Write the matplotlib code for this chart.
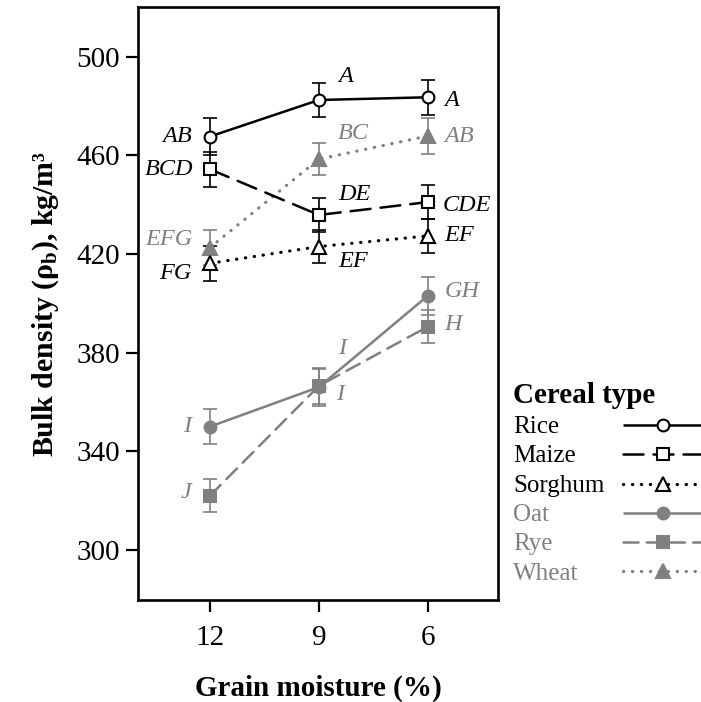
import matplotlib
matplotlib.use('Agg')
import matplotlib.pyplot as plt

plt.rcParams['font.family'] = 'Liberation Serif'
plt.rcParams['mathtext.fontset'] = 'custom'
plt.rcParams['mathtext.rm'] = 'Liberation Serif'
plt.rcParams['mathtext.it'] = 'Liberation Serif:italic'
plt.rcParams['mathtext.bf'] = 'Liberation Serif:bold'

# grain moisture levels (%), plotted from wet to dry
moisture = ['12', '9', '6']
cereals = ['Rice', 'Maize', 'Sorghum', 'Oat', 'Rye', 'Wheat']

# mean bulk density, kg/m3
rice = [467.6, 482.4, 483.5]
maize = [454.3, 435.8, 441.0]
sorghum = [416.2, 423.0, 427.3]
oat = [350.0, 366.0, 403.0]
rye = [322.0, 366.5, 390.5]
wheat = [422.6, 458.4, 467.8]

# standard errors
rice_se = [7.3, 6.9, 7.0]
maize_se = [7.2, 6.8, 6.8]
sorghum_se = [7.2, 6.8, 6.8]
oat_se = [7.1, 7.5, 7.6]
rye_se = [6.8, 7.3, 6.8]
wheat_se = [7.2, 6.6, 7.1]

# Tukey grouping letters
rice_grp = ['AB', 'A', 'A']
maize_grp = ['BCD', 'DE', 'CDE']
sorghum_grp = ['FG', 'EF', 'EF']
oat_grp = ['I', 'I', 'GH']
rye_grp = ['J', 'I', 'H']
wheat_grp = ['EFG', 'BC', 'AB']

means = [rice, maize, sorghum, oat, rye, wheat]
errs = [rice_se, maize_se, sorghum_se, oat_se, rye_se, wheat_se]
groups = [rice_grp, maize_grp, sorghum_grp, oat_grp, rye_grp, wheat_grp]

black = 'black'
grey = '#808080'
dots = (0, (0.1, 2.7))
styles = {
    'Rice':    dict(color=black, marker='o', mfc='white', ls='-', lw=1.8),
    'Maize':   dict(color=black, marker='s', mfc='white', ls=(0, (8, 4)), lw=1.8),
    'Sorghum': dict(color=black, marker='^', mfc='white', ls=dots, lw=2.3),
    'Oat':     dict(color=grey, marker='o', mfc=grey, ls='-', lw=1.8),
    'Rye':     dict(color=grey, marker='s', mfc=grey, ls=(0, (6, 3.3)), lw=1.8),
    'Wheat':   dict(color=grey, marker='^', mfc=grey, ls=dots, lw=2.3),
}
# letter offsets in pixels from each point
offsets = {
    'Rice':    [(-18, 0), (19, 23), (17, -3)],
    'Maize':   [(-17, 0), (19, 20), (15, -3)],
    'Sorghum': [(-19, -10), (19, -15), (17, 0)],
    'Oat':     [(-19, 0), (19, 39), (17, 4)],
    'Rye':     [(-19, 3), (17, -9), (17, 2)],
    'Wheat':   [(-18, 8), (19, 26), (17, 0)],
}


def line_kw(st):
    return dict(color=st['color'], ls=st['ls'], lw=st['lw'], marker=st['marker'],
                ms=8.5 if st['marker'] != '^' else 9.5, mfc=st['mfc'],
                mec=st['color'], mew=1.5, dash_capstyle='round',
                solid_capstyle='butt')


fig = plt.figure(figsize=(7.01, 7.02), dpi=100)
ax = fig.add_axes([138 / 701, 1 - 600 / 702, 360 / 701, 593 / 702])
x = list(range(len(moisture)))

# grey series first so the black ones sit on top
for i in [3, 4, 5, 0, 1, 2]:
    name = cereals[i]
    st = styles[name]
    ax.errorbar(x, means[i], yerr=errs[i], fmt='none', ecolor=st['color'],
                elinewidth=1.2, capsize=5, capthick=1.2, zorder=2)
    ax.plot(x, means[i], zorder=4 if st['color'] == black else 3, **line_kw(st))
    for j in x:
        dx, dy = offsets[name][j]
        ax.annotate(groups[i][j], (j, means[i][j]), xytext=(dx, dy),
                    textcoords='offset pixels', ha='right' if dx < 0 else 'left',
                    va='center', fontsize=17.5, style='italic', color=st['color'],
                    zorder=5)

handles = [plt.Line2D([], [], **line_kw(styles[name])) for name in cereals]

ax.set_xlim(-0.662, 2.646)
ax.set_ylim(279.7, 520.1)
ax.set_xticks(x)
ax.set_xticklabels(moisture)
ax.set_yticks([300, 340, 380, 420, 460, 500])
ax.tick_params(axis='both', labelsize=21, length=8.6, width=1.6, direction='out')
ax.tick_params(axis='x', pad=9.5)
ax.tick_params(axis='y', pad=4.5)
for s in ax.spines.values():
    s.set_linewidth(1.9)

ax.set_xlabel('Grain moisture (%)', fontsize=21, fontweight='bold', labelpad=17)
ax.set_ylabel('Bulk density (ρ$_\\mathbf{b}$), kg/m³', fontsize=21.5,
              fontweight='bold', labelpad=11)

# legend: a text column with the title, then a column of line keys
leg_kw = dict(loc='upper left', frameon=False, borderpad=0, borderaxespad=0,
              labelspacing=0.27, fontsize=18, alignment='left',
              bbox_transform=fig.transFigure)
leg1 = ax.legend(handles, cereals, handlelength=0, handletextpad=0,
                 title='Cereal type',
                 title_fontproperties={'weight': 'bold', 'size': 21},
                 bbox_to_anchor=(513 / 701, 1 - 382 / 702), **leg_kw)
for h in leg1.legend_handles:
    h.set_visible(False)
for t, name in zip(leg1.get_texts(), cereals):
    t.set_color(styles[name]['color'])
ax.add_artist(leg1)

fig.canvas.draw()
top = leg1.get_texts()[0].get_window_extent().y1
top = fig.transFigure.inverted().transform((0, top))[1]
leg2 = ax.legend(handles, [''] * len(cereals), handlelength=3.2, handletextpad=0,
                 bbox_to_anchor=(623 / 701, top), **leg_kw)

fig.savefig('out.png', dpi=100)
